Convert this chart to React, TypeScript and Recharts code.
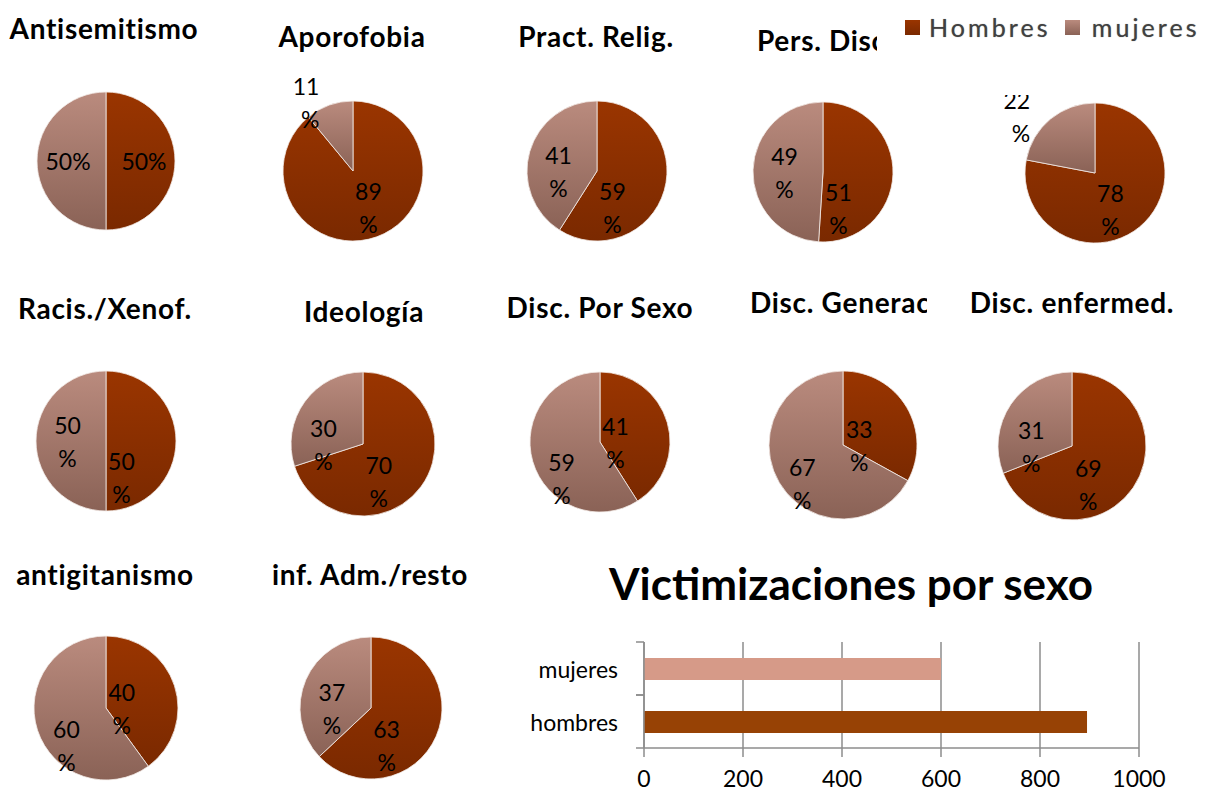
import React from 'react';
import {
  PieChart, Pie, Cell, BarChart, Bar, XAxis, YAxis, CartesianGrid,
} from 'recharts';

// pie data: share of victims by sex (percent)
const TITLES = [
  'Antisemitismo', 'Aporofobia', 'Pract. Relig.', 'Pers. Disc', '',
  'Racis./Xenof.', 'Ideología', 'Disc. Por Sexo', 'Disc. Generac', 'Disc. enfermed.',
  'antigitanismo', 'inf. Adm./resto',
];
const HOMBRES = [50, 89, 59, 51, 78, 50, 70, 41, 33, 69, 40, 63];
const MUJERES = [50, 11, 41, 49, 22, 50, 30, 59, 67, 31, 60, 37];
const SERIES = ['Hombres', 'mujeres'];

// bar chart
const BAR_CATS = ['mujeres', 'hombres'];
const BAR_VALUES = [600, 895];
const BAR_TICKS = [0, 200, 400, 600, 800, 1000];
const BAR_TITLE = 'Victimizaciones por sexo';

const FONT = 'Lato, "Open Sans", sans-serif';
const H_TOP = '#9a3500';
const H_BOT = '#7a2900';
const M_TOP = '#ba8b7e';
const M_BOT = '#8a6256';
const GRID = '#8c8c8c';

// where each small pie sits on the page
const CELLS: any[] = [
  { cx: 106, cy: 161, r: 69, tx: 104, ty: 28, oneLine: true },
  { cx: 353, cy: 171, r: 70, tx: 352, ty: 36 },
  { cx: 597, cy: 171, r: 70, tx: 596, ty: 36 },
  { cx: 823, cy: 172, r: 70, tx: 757, ty: 40, clipW: 120 },
  { cx: 1095, cy: 173, r: 70, padTop: 78 },
  { cx: 106, cy: 441, r: 70, tx: 105, ty: 308 },
  { cx: 363, cy: 444, r: 72, tx: 364, ty: 311 },
  { cx: 600, cy: 442, r: 70, tx: 600, ty: 307 },
  { cx: 843, cy: 445, r: 74, tx: 750, ty: 302, clipW: 177 },
  { cx: 1072, cy: 446, r: 74, tx: 1072, ty: 302 },
  { cx: 106, cy: 708, r: 72, tx: 105, ty: 574 },
  { cx: 371, cy: 708, r: 71, tx: 370, ty: 574 },
];

const RAD = Math.PI / 180;
const LBL = 23;

// rough imitation of Excel's "best fit" placement of the wrapped labels
function makeLabel(oneLine: boolean) {
  return (props: any) => {
    const { cx, cy, midAngle, outerRadius, percent, value, index } = props;
    const r = outerRadius;
    if (oneLine) {
      const x = cx + r * 0.55 * Math.cos(-midAngle * RAD);
      const y = cy + r * 0.55 * Math.sin(-midAngle * RAD);
      return (
        <text x={x} y={y} textAnchor="middle" dominantBaseline="central"
          fontFamily={FONT} fontSize={LBL} fill="#000">{`${value}%`}</text>
      );
    }
    let x: number;
    let y: number;
    let anchor = 'middle';
    if (percent < 0.25) {
      x = cx + r * 1.5 * Math.cos(-midAngle * RAD) + 2;
      y = cy + r * 1.05 * Math.sin(-midAngle * RAD);
      anchor = 'end';
    } else {
      const right = index === 0;
      const low = right ? percent >= 0.5 : percent > 0.5;
      x = right ? cx + r * 0.22 : cx - r * 0.55;
      y = low ? cy + r * 0.52 : cy;
    }
    return (
      <text x={x} y={y} textAnchor={anchor} dominantBaseline="central"
        fontFamily={FONT} fontSize={LBL} fill="#000">
        <tspan x={x} dy={-16}>{value}</tspan>
        <tspan x={x} dy={33}>%</tspan>
      </text>
    );
  };
}

function SmallPie({ i }: { i: number }) {
  const c = CELLS[i];
  const padTop = c.padTop ?? c.r + 60;
  const w = 2 * c.r + 140;
  const h = padTop + c.r + 40;
  const data = [
    { name: SERIES[0], value: HOMBRES[i] },
    { name: SERIES[1], value: MUJERES[i] },
  ];
  return (
    <div style={{ position: 'absolute', left: c.cx - w / 2, top: c.cy - padTop }}>
      <PieChart width={w} height={h} margin={{ top: 0, right: 0, bottom: 0, left: 0 }}>
        <defs>
          <linearGradient id={`gh${i}`} x1="0" y1="0" x2="0" y2="1">
            <stop offset="0%" stopColor={H_TOP} />
            <stop offset="100%" stopColor={H_BOT} />
          </linearGradient>
          <linearGradient id={`gm${i}`} x1="0" y1="0" x2="0" y2="1">
            <stop offset="0%" stopColor={M_TOP} />
            <stop offset="100%" stopColor={M_BOT} />
          </linearGradient>
        </defs>
        <Pie
          data={data}
          dataKey="value"
          cx={w / 2}
          cy={padTop}
          outerRadius={c.r}
          startAngle={90}
          endAngle={-270}
          stroke="#f4ece9"
          strokeWidth={0.8}
          labelLine={false}
          label={makeLabel(!!c.oneLine)}
          isAnimationActive={false}
        >
          <Cell fill={`url(#gh${i})`} />
          <Cell fill={`url(#gm${i})`} />
        </Pie>
      </PieChart>
    </div>
  );
}

function Title({ i }: { i: number }) {
  const c = CELLS[i];
  if (!TITLES[i]) return null;
  const base: React.CSSProperties = {
    position: 'absolute', top: c.ty - 17, height: 34, lineHeight: '34px',
    fontFamily: FONT, fontWeight: 700, fontSize: 28, letterSpacing: 0.7,
    color: '#000', whiteSpace: 'nowrap',
  };
  if (c.clipW) {
    return <div style={{ ...base, left: c.tx, width: c.clipW, overflow: 'hidden' }}>{TITLES[i]}</div>;
  }
  return <div style={{ ...base, left: c.tx - 150, width: 300, textAlign: 'center' }}>{TITLES[i]}</div>;
}

function CatTick(props: any) {
  const { x, y, payload } = props;
  const off = payload.offset ?? 0;
  const ax = x + 26;
  return (
    <g>
      <text x={x} y={y} textAnchor="end" dominantBaseline="central"
        fontFamily={FONT} fontSize={23} fill="#000">{payload.value}</text>
      <line x1={ax - 8} x2={ax} y1={y - off} y2={y - off} stroke={GRID} strokeWidth={1.5} />
      <line x1={ax - 8} x2={ax} y1={y + off} y2={y + off} stroke={GRID} strokeWidth={1.5} />
    </g>
  );
}

export default function App() {
  const barData = BAR_CATS.map((name, k) => ({ name, value: BAR_VALUES[k] }));
  const barColors = ['#d69a88', '#974205'];
  return (
    <div style={{ position: 'absolute', left: 0, top: 0, width: 1206, height: 794, background: '#fff', overflow: 'hidden' }}>
      {CELLS.map((_, i) => <SmallPie key={`p${i}`} i={i} />)}
      {CELLS.map((_, i) => <Title key={`t${i}`} i={i} />)}

      {/* legend */}
      <div style={{ position: 'absolute', left: 900, top: 7, width: 306, height: 40, background: '#fff',
        display: 'flex', alignItems: 'center', fontFamily: FONT, fontSize: 25, color: '#404040', letterSpacing: 3.1 }}>
        <span style={{ display: 'inline-block', width: 15, height: 15, marginLeft: 5, background: `linear-gradient(${H_TOP}, ${H_BOT})` }} />
        <span style={{ marginLeft: 9, textShadow: '0 0 1px #888' }}>{SERIES[0]}</span>
        <span style={{ display: 'inline-block', width: 15, height: 15, marginLeft: 14, background: `linear-gradient(${M_TOP}, ${M_BOT})` }} />
        <span style={{ marginLeft: 12, textShadow: '0 0 1px #888' }}>{SERIES[1]}</span>
      </div>

      {/* bar chart */}
      <div style={{ position: 'absolute', left: 551, top: 558, width: 600, textAlign: 'center',
        fontFamily: FONT, fontWeight: 700, fontSize: 44, lineHeight: '50px', color: '#000' }}>
        {BAR_TITLE}
      </div>
      <div style={{ position: 'absolute', left: 500, top: 630 }}>
        <BarChart width={706} height={164} data={barData} layout="vertical"
          margin={{ top: 12, right: 67, bottom: 0, left: 0 }} barSize={22}>
          <CartesianGrid horizontal={false} vertical stroke={GRID} strokeWidth={1.5} />
          <XAxis type="number" domain={[0, 1000]} ticks={BAR_TICKS} height={46}
            axisLine={{ stroke: GRID, strokeWidth: 1.5 }} tickLine={{ stroke: GRID, strokeWidth: 1.5 }}
            tickSize={9} tickMargin={14}
            tick={{ fontFamily: FONT, fontSize: 23, fill: '#000' }} />
          <YAxis type="category" dataKey="name" width={144}
            axisLine={{ stroke: GRID, strokeWidth: 1.5 }} tickLine={false}
            tickMargin={20} tick={<CatTick />} />
          <Bar dataKey="value" isAnimationActive={false}>
            {barData.map((_, k) => <Cell key={`b${k}`} fill={barColors[k]} />)}
          </Bar>
        </BarChart>
      </div>
    </div>
  );
}
